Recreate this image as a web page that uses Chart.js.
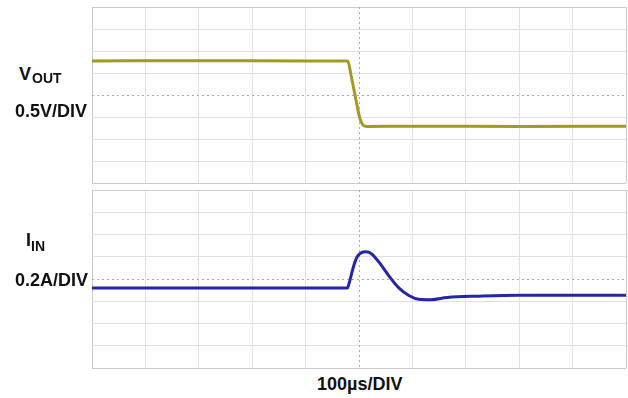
<!DOCTYPE html>
<html>
<head>
<meta charset="utf-8">
<script src="https://cdn.jsdelivr.net/npm/chart.js@4.4.1/dist/chart.umd.min.js"></script>
<style>
  html, body { margin: 0; padding: 0; background: #fff; }
  #wrap { position: relative; width: 628px; height: 398px; overflow: hidden; font-family: 'Liberation Sans', Arial, sans-serif; font-weight: bold; color: #111; }
  .lbl { position: absolute; white-space: nowrap; font-size: 18px; line-height: 18px; }
  .sub { position: absolute; white-space: nowrap; font-size: 14px; line-height: 14px; }
  canvas { position: absolute; }
</style>
</head>
<body>
<div id="wrap">
  <canvas id="voutChart" style="left:88px; top:3px; width:540px; height:184px;" width="540" height="184"></canvas>
  <canvas id="iinChart" style="left:88px; top:186px; width:540px; height:186px;" width="540" height="186"></canvas>

  <div class="lbl" style="left:19px; top:65px;">V</div>
  <div class="sub" style="left:32px; top:71px;">OUT</div>
  <div class="lbl" style="left:15px; top:102px;">0.5V/DIV</div>

  <div class="lbl" style="left:26px; top:231px;">I</div>
  <div class="sub" style="left:31px; top:239px;">IN</div>
  <div class="lbl" style="left:15px; top:271px;">0.2A/DIV</div>

  <div class="lbl" style="left:317px; top:375px;">100µs/DIV</div>
</div>
<script>
// time in divisions (100µs/DIV), centre of screen = 0
const voutTime = [-5, -3, -1, -0.21, -0.15, -0.075, -0.02, 0.02, 0.075, 0.15, 1, 3, 5];
// VOUT in divisions (0.5V/DIV)
const voutDiv  = [1.55, 1.56, 1.55, 1.55, 0.91, 0.0, -0.68, -1.09, -1.36, -1.43, -1.42, -1.43, -1.42];

const iinTime = [-5, -2, -0.22, -0.19, -0.13, -0.075, -0.02, 0.056, 0.13, 0.22, 0.37, 0.56, 0.75, 0.94, 1.12, 1.35, 1.65, 2.25, 3.0, 5];
// IIN in divisions (0.2A/DIV)
const iinDiv  = [-0.41, -0.41, -0.41, -0.23, 0.32, 0.77, 1.05, 1.2, 1.23, 1.16, 0.77, 0.14, -0.41, -0.75, -0.91, -0.93, -0.83, -0.77, -0.73, -0.73];

const xRange = [-5, 5];   // 10 horizontal divisions
const yRange = [-4, 4];   // 8 vertical divisions per panel

const gridColor = '#e0e0e0';
const frameColor = '#cacaca';

// dotted centre graticule lines
const centreCross = {
    id: 'centreCross',
    beforeDatasetsDraw(chart) {
        const { ctx, chartArea, scales } = chart;
        const cx = scales.x.getPixelForValue(0);
        const cy = scales.y.getPixelForValue(0);
        ctx.save();
        ctx.strokeStyle = '#a8a8a8';
        ctx.lineWidth = 1;
        ctx.setLineDash([2, 3]);
        ctx.beginPath();
        ctx.moveTo(Math.round(cx) + 0.5, chartArea.top);
        ctx.lineTo(Math.round(cx) + 0.5, chartArea.bottom);
        ctx.moveTo(chartArea.left, Math.round(cy) + 0.5);
        ctx.lineTo(chartArea.right, Math.round(cy) + 0.5);
        ctx.stroke();
        ctx.restore();
    }
};

function gridLineColor(c) {
    const v = c.tick.value;
    if (v === 0) return 'rgba(0,0,0,0)';
    if (c.scale.axis === 'x' && (v === xRange[0] || v === xRange[1])) return frameColor;
    if (c.scale.axis === 'y' && (v === yRange[0] || v === yRange[1])) return frameColor;
    return gridColor;
}

function makeScope(id, times, values, color) {
    return new Chart(document.getElementById(id), {
        type: 'line',
        data: {
            datasets: [{
                data: times.map((t, i) => ({ x: t, y: values[i] })),
                borderColor: color,
                borderWidth: 3,
                pointRadius: 0,
                cubicInterpolationMode: 'monotone',
                fill: false
            }]
        },
        options: {
            responsive: false,
            animation: false,
            layout: { padding: { left: 4, right: 2, top: 4, bottom: 4 } },
            plugins: { legend: { display: false }, tooltip: { enabled: false } },
            scales: {
                x: {
                    type: 'linear', min: xRange[0], max: xRange[1],
                    ticks: { display: false, stepSize: 1 },
                    grid: { color: gridLineColor, drawTicks: false, lineWidth: 1 },
                    border: { display: false }
                },
                y: {
                    type: 'linear', min: yRange[0], max: yRange[1],
                    ticks: { display: false, stepSize: 1 },
                    grid: { color: gridLineColor, drawTicks: false, lineWidth: 1 },
                    border: { display: false }
                }
            }
        },
        plugins: [centreCross]
    });
}

makeScope('voutChart', voutTime, voutDiv, '#a19b22');
makeScope('iinChart', iinTime, iinDiv, '#2526a6');
</script>
</body>
</html>
